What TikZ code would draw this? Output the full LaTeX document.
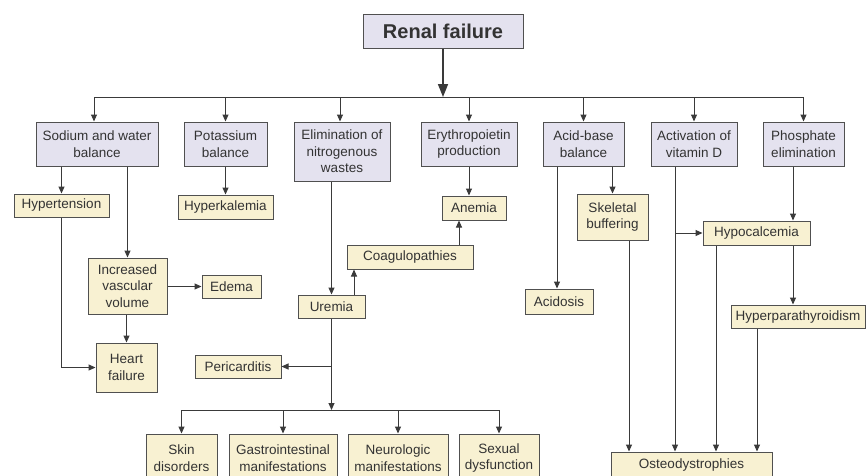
\documentclass[tikz,border=0pt]{standalone}
\usepackage{fontspec}
\setmainfont{Liberation Sans}
\usetikzlibrary{arrows.meta}
\definecolor{lav}{HTML}{E4E2EF}
\definecolor{crm}{HTML}{F8F1D2}
\definecolor{edgec}{HTML}{505050}
\definecolor{linec}{HTML}{3A3A3A}
\definecolor{txtc}{HTML}{333333}
\begin{document}
\begin{tikzpicture}[x=1pt,y=-1pt,
  basebox/.style={draw=edgec, line width=1pt, inner sep=0pt, align=center, text=txtc,
    font=\fontsize{13.5}{16.5}\selectfont, anchor=center},
  topbox/.style={basebox, fill=lav},
  effbox/.style={basebox, fill=crm},
  myarr/.style={draw=linec, line width=1pt, -{Triangle[length=7pt,width=6pt]}},
  myline/.style={draw=linec, line width=1pt},
]
\useasboundingbox (0,0) rectangle (866,475);
\fill[white] (0,0) rectangle (866,475);

% top
\node[topbox, minimum width=160pt, minimum height=34pt, font=\fontsize{20}{24}\selectfont\bfseries] (renal) at (443,31) {Renal failure};

% second level
\node[topbox, minimum width=122pt, minimum height=44pt] (sodium) at (97,144) {Sodium and water\\balance};
\node[topbox, minimum width=83pt, minimum height=44pt] (potassium) at (225.5,144) {Potassium\\balance};
\node[topbox, minimum width=96pt, minimum height=59pt] (elim) at (342,151.5) {Elimination of\\nitrogenous\\wastes};
\node[topbox, minimum width=96pt, minimum height=44pt] (ery) at (469,144) {Erythropoietin\\production};
\node[topbox, minimum width=81pt, minimum height=44pt] (acid) at (583.5,144) {Acid-base\\balance};
\node[topbox, minimum width=86pt, minimum height=44pt] (vitd) at (694,144) {Activation of\\vitamin D};
\node[topbox, minimum width=81pt, minimum height=44pt] (phos) at (803.5,144) {Phosphate\\elimination};

% effects
\node[effbox, minimum width=95pt, minimum height=23pt] (hypert) at (61.5,205.5) {Hypertension};
\node[effbox, minimum width=95pt, minimum height=24pt] (hyperk) at (225.5,207) {Hyperkalemia};
\node[effbox, minimum width=79pt, minimum height=56pt] (ivv) at (127.5,286) {Increased\\vascular\\volume};
\node[effbox, minimum width=59pt, minimum height=23pt] (edema) at (231.5,286.5) {Edema};
\node[effbox, minimum width=61pt, minimum height=49pt] (heart) at (126.5,367.5) {Heart\\failure};
\node[effbox, minimum width=86pt, minimum height=23pt] (peri) at (238,366.5) {Pericarditis};
\node[effbox, minimum width=67pt, minimum height=23pt] (uremia) at (331.5,306.5) {Uremia};
\node[effbox, minimum width=126pt, minimum height=24pt] (coag) at (410,257) {Coagulopathies};
\node[effbox, minimum width=64pt, minimum height=24pt] (anemia) at (474,208) {Anemia};
\node[effbox, minimum width=68pt, minimum height=25pt] (acidosis) at (559,301.5) {Acidosis};
\node[effbox, minimum width=71pt, minimum height=46pt] (skel) at (612.5,217) {Skeletal\\buffering};
\node[effbox, minimum width=107pt, minimum height=24pt] (hypoc) at (756.5,233) {Hypocalcemia};
\node[effbox, minimum width=134pt, minimum height=23pt] (hyperpara) at (798,316.5) {Hyperparathyroidism};
\node[effbox, minimum width=161pt, minimum height=26pt] (osteo) at (691.5,465) {Osteodystrophies};
\node[effbox, minimum width=71pt, minimum height=48pt] (skin) at (181.5,458) {Skin\\disorders};
\node[effbox, minimum width=108pt, minimum height=48pt] (gi) at (283,458) {Gastrointestinal\\manifestations};
\node[effbox, minimum width=100pt, minimum height=48pt] (neuro) at (398,458) {Neurologic\\manifestations};
\node[effbox, minimum width=80pt, minimum height=48pt] (sexual) at (499,458) {Sexual\\dysfunction};

% main bus
\coordinate (b1) at (94,97);
\coordinate (b2) at (225.5,97);
\coordinate (b3) at (340,97);
\coordinate (b4) at (469,97);
\coordinate (b5) at (583.5,97);
\coordinate (b6) at (694,97);
\coordinate (b7) at (803.5,97);
\draw[draw=linec, line width=1.6pt, -{Triangle[length=13pt,width=10pt]}] (renal.south) -- (renal.south |- b1);
\draw[myline] (b1) -- (b7);
\draw[myarr] (b1) -- (b1 |- sodium.north);
\draw[myarr] (b2) -- (b2 |- potassium.north);
\draw[myarr] (b3) -- (b3 |- elim.north);
\draw[myarr] (b4) -- (b4 |- ery.north);
\draw[myarr] (b5) -- (b5 |- acid.north);
\draw[myarr] (b6) -- (b6 |- vitd.north);
\draw[myarr] (b7) -- (b7 |- phos.north);

% sodium branch
\draw[myarr] (hypert.north |- sodium.south) -- (hypert.north);
\draw[myarr] (ivv.north |- sodium.south) -- (ivv.north);
\draw[myarr] (potassium.south) -- (potassium.south |- hyperk.north);
\draw[myarr] (ivv.east |- edema.west) -- (edema.west);
\draw[myarr] (heart.north |- ivv.south) -- (heart.north);
\draw[myarr] (hypert.south) -- (hypert.south |- heart.west) -- (heart.west);

% nitrogenous branch
\draw[myarr] (uremia.north |- elim.south) -- (uremia.north);
\draw[myarr] ([xshift=22.5pt]uremia.north) -- ([xshift=22.5pt]uremia.north |- coag.south);
\draw[myarr] (ery.south) -- (ery.south |- anemia.north);
\draw[myarr] ([xshift=-15pt]anemia.south |- coag.north) -- ([xshift=-15pt]anemia.south);
\coordinate (ub) at (331.5,410);
\draw[myarr] (uremia.south) -- (ub);
\draw[myarr] (uremia.south |- peri.east) -- (peri.east);
\draw[myline] (skin.north |- ub) -- (sexual.north |- ub);
\foreach \n in {skin,gi,neuro,sexual}
  \draw[myarr] (\n.north |- ub) -- (\n.north);

% acid-base branch
\draw[myarr] ([xshift=-2pt]acidosis.north |- acid.south) -- ([xshift=-2pt]acidosis.north);
\draw[myarr] (skel.north |- acid.south) -- (skel.north);

% vitamin D / phosphate
\coordinate (vd) at ([xshift=-19pt]vitd.south);
\draw[myarr] (vd) -- (vd |- osteo.north);
\draw[myarr] (vd |- hypoc.west) -- (hypoc.west);
\coordinate (ph) at ([xshift=-10.5pt]phos.south);
\draw[myarr] (ph) -- (ph |- hypoc.north);
\draw[myarr] (ph |- hypoc.south) -- (ph |- hyperpara.north);
\draw[myarr] ([xshift=16.5pt]skel.south) -- ([xshift=16.5pt]skel.south |- osteo.north);
\draw[myarr] ([xshift=-40.5pt]hypoc.south) -- ([xshift=-40.5pt]hypoc.south |- osteo.north);
\draw[myarr] ([xshift=-41pt]hyperpara.south) -- ([xshift=-41pt]hyperpara.south |- osteo.north);
\end{tikzpicture}
\end{document}
